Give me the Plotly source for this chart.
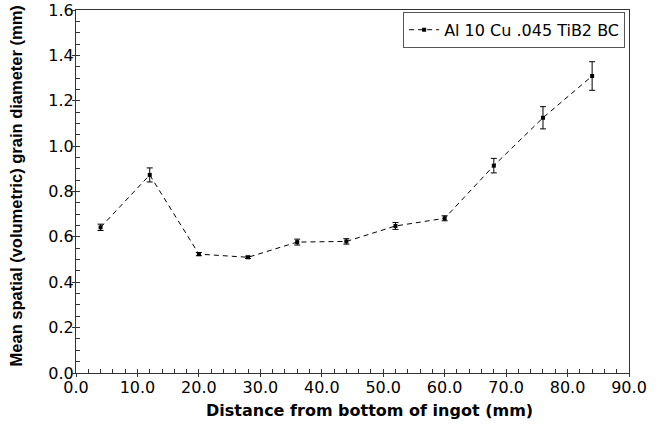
import plotly.graph_objects as go

distance_mm = [4, 12, 20, 28, 36, 44, 52, 60, 68, 76, 84]
grain_diam_mm = [0.642, 0.873, 0.524, 0.510, 0.577, 0.580, 0.648, 0.682, 0.914, 1.125, 1.309]
err_mm = [0.014, 0.031, 0.007, 0.005, 0.013, 0.012, 0.015, 0.011, 0.032, 0.049, 0.063]
series_name = "Al 10 Cu .045 TiB2 BC"
x_title = "Distance from bottom of ingot (mm)"
y_title = "Mean spatial (volumetric) grain diameter (mm)"
x_ticks = [0, 10, 20, 30, 40, 50, 60, 70, 80, 90]
y_ticks = [0.0, 0.2, 0.4, 0.6, 0.8, 1.0, 1.2, 1.4, 1.6]

wide = "DejaVu Sans, Verdana, sans-serif"
narrow = "Liberation Sans, Arial, Helvetica, sans-serif"
axc = "#333"

fig = go.Figure()
fig.add_trace(go.Scatter(
    x=distance_mm, y=grain_diam_mm, name=series_name, mode="lines+markers",
    line=dict(color="black", width=1, dash="5px,4px"),
    marker=dict(color="black", size=4, symbol="square"),
    error_y=dict(type="data", array=err_mm, visible=True, color="black", thickness=1, width=3),
))
# overlay trace for outside part of major ticks
fig.add_trace(go.Scatter(x=[0], y=[0], xaxis="x2", yaxis="y2", showlegend=False,
                         mode="markers", marker=dict(opacity=0), hoverinfo="skip"))

fig.update_layout(
    width=660, height=431,
    margin=dict(l=76, r=31, t=10, b=58),
    paper_bgcolor="white", plot_bgcolor="white",
    font=dict(family=wide, size=16, color="black"),
    showlegend=True,
    legend=dict(x=0.993, y=0.995, xanchor="right", yanchor="top",
                bordercolor="#555", borderwidth=1, bgcolor="white",
                font=dict(size=16, family=wide), itemwidth=30,
                tracegroupgap=0),
    xaxis=dict(range=[0, 90], tickvals=x_ticks, ticktext=[f"{v:.1f}" for v in x_ticks],
               showgrid=False, zeroline=False, showline=True, linecolor=axc, linewidth=1,
               mirror=True, ticks="inside", ticklen=4, tickcolor=axc, automargin=False,
               minor=dict(dtick=2, ticks="inside", ticklen=4, tickcolor=axc),
               tickfont=dict(size=16, family=wide)),
    yaxis=dict(range=[0, 1.6], tickvals=y_ticks, ticktext=[f"{v:.1f}" for v in y_ticks],
               showgrid=False, zeroline=False, showline=True, linecolor=axc, linewidth=1,
               mirror=True, ticks="inside", ticklen=4, tickcolor=axc, automargin=False,
               minor=dict(dtick=0.05, ticks="inside", ticklen=4, tickcolor=axc),
               ticklabelstandoff=-2,
               tickfont=dict(size=16, family=wide)),
    xaxis2=dict(range=[0, 90], overlaying="x", tickvals=x_ticks, showticklabels=False,
                ticks="outside", ticklen=3, tickcolor=axc, showgrid=False, zeroline=False,
                showline=False, automargin=False),
    yaxis2=dict(range=[0, 1.6], overlaying="y", tickvals=y_ticks, showticklabels=False,
                ticks="outside", ticklen=3, tickcolor=axc, showgrid=False, zeroline=False,
                showline=False, automargin=False),
    annotations=[
        dict(text=f"<b>{x_title}</b>", xref="paper", yref="paper", x=0.53, y=0,
             xanchor="center", yanchor="middle", yshift=-37, showarrow=False,
             font=dict(size=16, family=wide)),
        dict(text=f"<b>{y_title}</b>", xref="paper", yref="paper", x=0, y=0.514,
             xanchor="center", yanchor="middle", xshift=-60, textangle=-90,
             showarrow=False, font=dict(size=16.5, family=narrow)),
    ],
)

fig.write_html("out.html", config={"displayModeBar": False},
               post_script="document.body.style.margin='0';")
